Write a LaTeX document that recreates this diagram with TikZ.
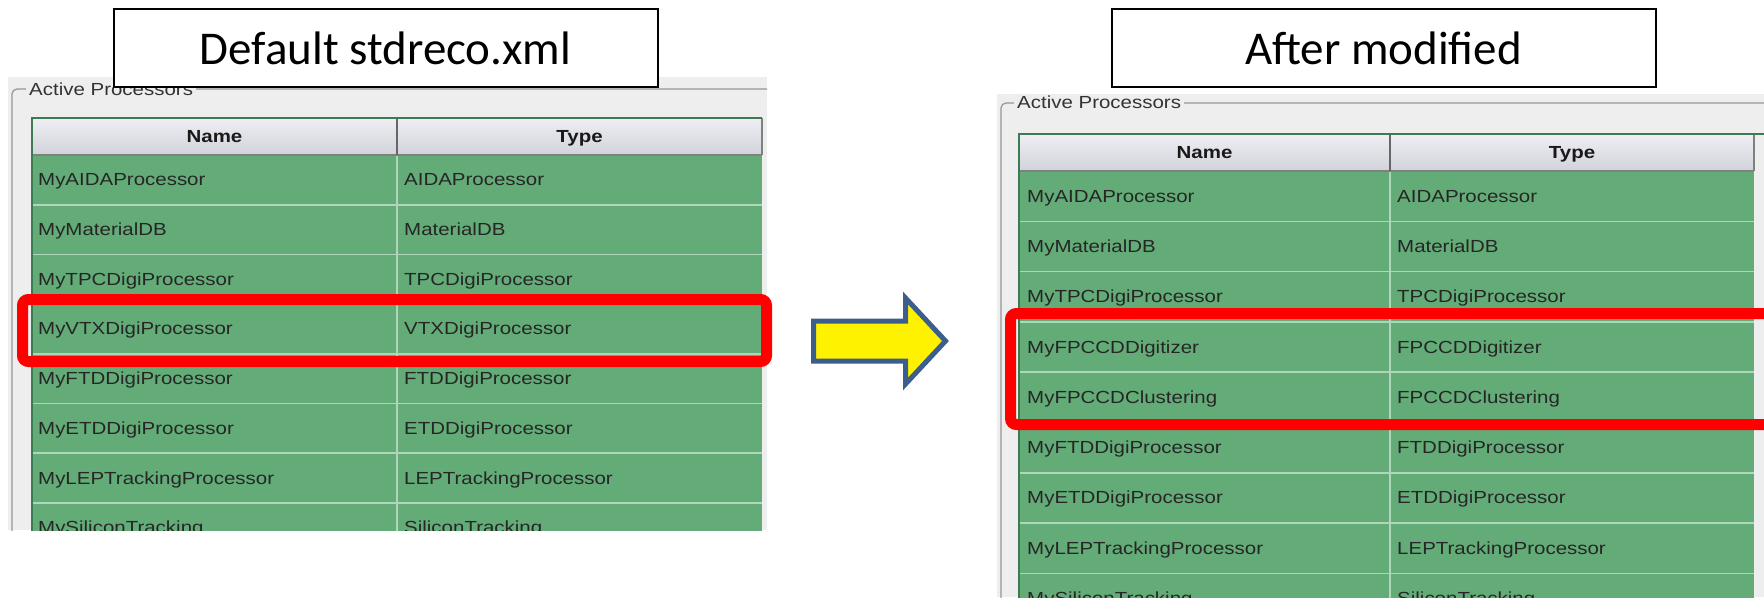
\documentclass[tikz,border=0pt]{standalone}
\usepackage{fontspec}
\setmainfont{Carlito}
\newfontfamily\guifont[FakeStretch=1.17]{Liberation Sans}
\definecolor{cellGreen}{RGB}{99,172,119}
\definecolor{gridGreen}{RGB}{176,214,186}
\definecolor{edgeGreen}{RGB}{60,122,82}
\definecolor{panelGray}{RGB}{238,238,238}
\definecolor{frameGray}{RGB}{150,150,150}
\definecolor{headTop}{RGB}{238,238,244}
\definecolor{headBot}{RGB}{210,210,218}
\definecolor{myRed}{RGB}{255,0,0}
\definecolor{arrowBlue}{RGB}{59,94,140}

\tikzset{
  titlebox/.style={draw=black, line width=2pt, fill=white, inner sep=0pt,
    minimum width=544pt, minimum height=78pt, font=\fontsize{47}{50}\selectfont},
  cellText/.style={anchor=base west, inner sep=0pt, text=black!85,
    font=\guifont\fontsize{17.5}{20}\selectfont},
  headText/.style={anchor=base, inner sep=0pt, text=black!90,
    font=\guifont\bfseries\fontsize{17.5}{20}\selectfont},
  groupLabel/.style={anchor=base west, inner xsep=3pt, inner ysep=1pt, fill=panelGray,
    text=black!80, font=\guifont\fontsize{17.5}{20}\selectfont},
  frame/.style={frameGray, line width=1.2pt, rounded corners=5pt},
  hilite/.style={myRed, line width=11pt, rounded corners=6pt}
}

\begin{document}
\begin{tikzpicture}[x=1pt, y=-1pt]
	\clip (0,0) rectangle (1764,597);

	% left panel: default file
	\begin{scope}
		\clip (8,77) rectangle (767,530);
		\fill[panelGray] (8,77) rectangle (767,530);
		\draw[frame] (12,540) -- (12,89) -- (767,89);
		\draw (26,95) node[groupLabel] (lgroup) {Active Processors};
		\fill[cellGreen] (32,118) rectangle (762,540);
		\shade[top color=headTop, bottom color=headBot] (32,118) rectangle (762,155);
		\foreach \k in {1,...,7}
			\draw[gridGreen, line width=1.6pt] (32,{155+\k*49.7}) -- (762,{155+\k*49.7});
		\draw[gridGreen, line width=1.6pt] (397,155) -- (397,540);
		\draw[gray, line width=1.5pt] (32,155) -- (762,155);
		\draw[gray!80!black, line width=2pt] (397,118) -- (397,155);
		\draw[gray, line width=1.5pt] (762,118) -- (762,155);
		\draw[edgeGreen, line width=2.5pt] (32,540) -- (32,118) -- (762,118);
		\draw (214.5,142.5) node[headText] (lhname) {Name};
		\draw (579.5,142.5) node[headText] (lhtype) {Type};
		\foreach \nm/\tp [count=\i] in {MyAIDAProcessor/AIDAProcessor, MyMaterialDB/MaterialDB,
				MyTPCDigiProcessor/TPCDigiProcessor, MyVTXDigiProcessor/VTXDigiProcessor,
				MyFTDDigiProcessor/FTDDigiProcessor, MyETDDigiProcessor/ETDDigiProcessor,
				MyLEPTrackingProcessor/LEPTrackingProcessor, MySiliconTracking/SiliconTracking} {
			\draw (38,{155+(\i-0.5)*49.7+6}) node[cellText] (lname\i) {\nm};
			\draw (404,{155+(\i-0.5)*49.7+6}) node[cellText] (ltype\i) {\tp};
		}
	\end{scope}
	\draw[hilite] (22.5,299.5) rectangle (766.5,361.5);
	\draw (385.5,48) node[titlebox] (deftitle) {Default stdreco.xml};

	% right panel: modified file
	\begin{scope}
		\clip (997,94) rectangle (1764,597);
		\fill[panelGray] (997,94) rectangle (1764,597);
		\draw[frame] (1001,610) -- (1001,103) -- (1770,103);
		\draw (1014,108) node[groupLabel] (rgroup) {Active Processors};
		\fill[cellGreen] (1019,134) rectangle (1754,610);
		\shade[top color=headTop, bottom color=headBot] (1019,134) rectangle (1754,171);
		\foreach \k in {1,...,8}
			\draw[gridGreen, line width=1.6pt] (1019,{171+\k*50.3}) -- (1754,{171+\k*50.3});
		\draw[gridGreen, line width=1.6pt] (1390,171) -- (1390,610);
		\draw[gray, line width=1.5pt] (1019,171) -- (1754,171);
		\draw[gray!80!black, line width=2pt] (1390,134) -- (1390,171);
		\draw[gray, line width=1.5pt] (1754,134) -- (1754,171);
		\draw[edgeGreen, line width=2.5pt] (1019,610) -- (1019,134) -- (1764,134);
		\draw (1204.5,158.5) node[headText] (rhname) {Name};
		\draw (1572,158.5) node[headText] (rhtype) {Type};
		\foreach \nm/\tp [count=\i] in {MyAIDAProcessor/AIDAProcessor, MyMaterialDB/MaterialDB,
				MyTPCDigiProcessor/TPCDigiProcessor, MyFPCCDDigitizer/FPCCDDigitizer,
				MyFPCCDClustering/FPCCDClustering, MyFTDDigiProcessor/FTDDigiProcessor,
				MyETDDigiProcessor/ETDDigiProcessor, MyLEPTrackingProcessor/LEPTrackingProcessor,
				MySiliconTracking/SiliconTracking} {
			\draw (1027,{171+(\i-0.5)*50.3+6}) node[cellText] (rname\i) {\nm};
			\draw (1397,{171+(\i-0.5)*50.3+6}) node[cellText] (rtype\i) {\tp};
		}
	\end{scope}
	\draw[hilite] (1010.5,313.5) rectangle (1780,424.5);
	\draw (1383.5,48) node[titlebox] (modtitle) {After modified};

	% block arrow between the panels
	\draw[arrowBlue, fill=yellow, line width=5pt, miter limit=10]
		(813.5,321) -- (905.5,321) -- (905.5,298) -- (945.5,341)
		-- (905.5,384) -- (905.5,361) -- (813.5,361) -- cycle;
\end{tikzpicture}
\end{document}
